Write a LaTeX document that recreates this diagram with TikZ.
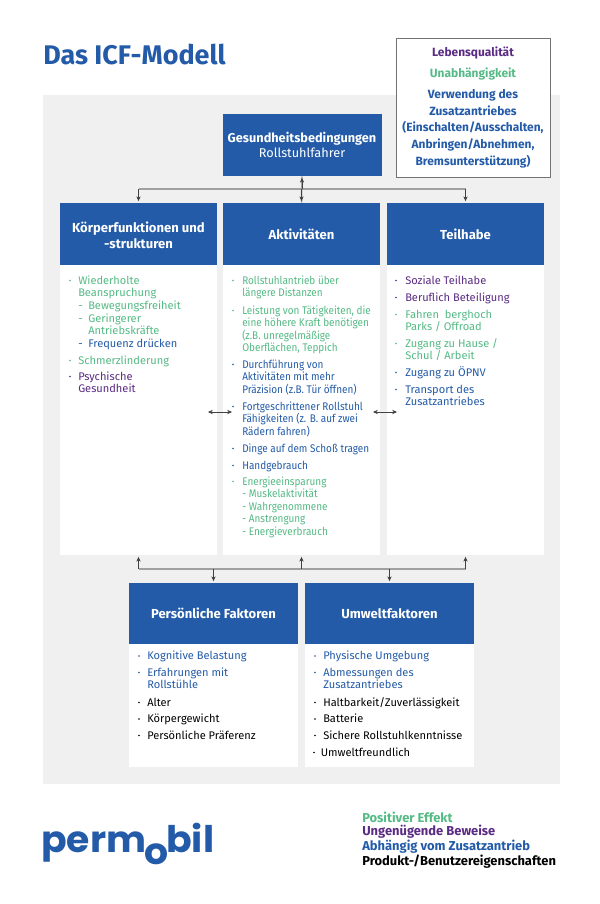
\documentclass[tikz,border=0pt]{standalone}
\usepackage{fontspec}
\setmainfont{Fira Sans}
\newfontfamily\condfont[FakeStretch=0.9]{Fira Sans}
\newfontfamily\logowide[FakeStretch=1.03]{Poppins}
\usetikzlibrary{arrows.meta}
\definecolor{pmblue}{HTML}{235BA8}
\definecolor{pmgreen}{HTML}{55BA85}
\definecolor{pmpurple}{HTML}{5A2A84}
\definecolor{pmgrey}{HTML}{F0F0F0}
\definecolor{pmline}{HTML}{A0A0A0}
\tikzset{
  head/.style={fill=pmblue,text=white,inner sep=0pt,align=center,font=\fontsize{9.8}{11.6}\selectfont\bfseries},
  cardbody/.style={fill=white,inner sep=0pt},
  itm/.style={anchor=base west,inner sep=0pt,font=\fontsize{8.3}{9.45}\selectfont},
  itmc/.style={anchor=base west,inner sep=0pt,font=\condfont\fontsize{8.3}{9.45}\selectfont},
  leg/.style={anchor=west,inner sep=0pt,font=\fontsize{9.7}{11}\selectfont\bfseries},
  logotext/.style={anchor=base west,inner sep=0pt,text=pmblue,font=\logowide\fontsize{27.5}{30}\selectfont\bfseries},
  bus/.style={draw=pmline,line width=1.1pt},
  arr/.style={draw=black!75,line width=0.5pt,-{Stealth[length=3.6pt,width=3.2pt]},shorten >=1.2pt},
  arrb/.style={draw=black!75,line width=0.5pt,{Stealth[length=3.6pt,width=3.2pt]}-{Stealth[length=3.6pt,width=3.2pt]}}
}
% name, bullet x, text x, y of first baseline, colour, lines separated by \cr
\newcommand{\liitem}[6]{%
  \fill[#5] (#2,#4-3.5) circle (0.95);
  \node[itm,text=#5] (#1) at (#3,#4) {\vtop{\halign{##\hfil\cr #6\crcr}}};
}
\newcommand{\licond}[6]{%
  \fill[#5] (#2,#4-3.5) circle (0.95);
  \node[itmc,text=#5] (#1) at (#3,#4) {\vtop{\halign{##\hfil\cr #6\crcr}}};
}
\begin{document}
\begin{tikzpicture}[x=0.75pt,y=-0.75pt]
\useasboundingbox (0,0) rectangle (600,904);
\fill[pmgrey] (43,95) rectangle (560,784);
\node[anchor=base west,inner sep=0pt,text=pmblue,font=\fontsize{20.2}{22}\selectfont\bfseries] (title) at (43,64) {Das ICF-Modell};
\node[draw=black!55,line width=0.5pt,fill=white,minimum width=115.5pt,minimum height=104pt,inner sep=0pt,align=center,font=\fontsize{8.95}{12.5}\selectfont\bfseries] (outcome) at (473,107.5) {{\color{pmpurple}Lebensqualität}\\[3.2pt]{\color{pmgreen}Unabhängigkeit}\\[3.2pt]{\color{pmblue}Verwendung des}\\{\color{pmblue}Zusatzantriebes}\\{\color{pmblue}(Einschalten/Ausschalten,}\\{\color{pmblue}Anbringen/Abnehmen,}\\{\color{pmblue}Bremsunterstützung)}};
% header boxes
\node[head,font=\fontsize{9.55}{11.6}\selectfont\bfseries,minimum width=119.25pt,minimum height=46.5pt] (gb) at (302,145) {Gesundheitsbedingungen\\{\normalfont\fontsize{9.55}{11.6}\selectfont Rollstuhlfahrer}};
\node[head,minimum width=117.75pt,minimum height=46.5pt] (kf) at (138.5,234) {\rule{0pt}{9.8pt}Körperfunktionen und\\-strukturen};
\node[head,minimum width=117.75pt,minimum height=46.5pt] (ak) at (301.5,234) {Aktivitäten};
\node[head,minimum width=117.75pt,minimum height=46.5pt] (te) at (465.5,234) {Teilhabe};
\node[cardbody,minimum width=117.75pt,minimum height=217.5pt] (kfb) at (138.5,410) {};
\node[cardbody,minimum width=117.75pt,minimum height=217.5pt] (akb) at (301.5,410) {};
\node[cardbody,minimum width=117.75pt,minimum height=217.5pt] (teb) at (465.5,410) {};
\node[head,minimum width=126.75pt,minimum height=45.75pt] (pf) at (213.5,613.5) {Persönliche Faktoren};
\node[head,minimum width=126.75pt,minimum height=45.75pt] (uf) at (389.5,613.5) {Umweltfaktoren};
\node[cardbody,minimum width=126.75pt,minimum height=92.25pt] (pfb) at (213.5,705.5) {};
\node[cardbody,minimum width=126.75pt,minimum height=92.25pt] (ufb) at (389.5,705.5) {};
% connectors, top
\coordinate (topbus) at (302,189);
\draw[bus] (topbus -| kf.north) -- (topbus -| te.north);
\draw[bus] (gb.south) -- (ak.north);
\draw[arr] (topbus -| kf.north) -- (kf.north);
\draw[arr] (topbus -| te.north) -- (te.north);
\draw[arr] (topbus -| ak.north) -- (ak.north);
\draw[arr] (topbus -| gb.south) -- (gb.south);
% connectors, bottom
\coordinate (botbus) at (302,569);
\draw[bus] (botbus -| kfb.south) -- (botbus -| teb.south);
\draw[arr] (botbus -| kfb.south) -- (kfb.south);
\draw[arr] (botbus -| akb.south) -- (akb.south);
\draw[arr] (botbus -| teb.south) -- (teb.south);
\draw[arr] (botbus -| pf.north) -- (pf.north);
\draw[arr] (botbus -| uf.north) -- (uf.north);
% side arrows
\coordinate (sa) at (208,412); \coordinate (sb) at (232,412);
\coordinate (sc) at (373,412); \coordinate (sd) at (397,412);
\draw[arrb] (sa) -- (sb);
\draw[arrb] (sc) -- (sd);
% column 1
\liitem{a1}{70}{78}{284}{pmgreen}{Wiederholte\cr Beanspruchung}
\node[itm,text=pmgreen] (a1a) at (78,309) {-};
\node[itm,text=pmgreen] (a1b) at (88,309) {Bewegungsfreiheit};
\node[itm,text=pmgreen] (a1c) at (78,322) {-};
\node[itm,text=pmgreen] (a1d) at (88,322) {\vtop{\halign{#\hfil\cr Geringerer\cr Antriebskräfte\crcr}}};
\node[itm,text=pmblue] (a1e) at (78,347) {-};
\node[itm,text=pmblue] (a1f) at (88,347) {Frequenz drücken};
\liitem{a2}{70}{78}{364}{pmgreen}{Schmerzlinderung}
\liitem{a3}{70}{78}{380}{pmpurple}{Psychische\cr Gesundheit}
% column 2
\licond{b1}{233}{242}{284}{pmgreen}{Rollstuhlantrieb über\cr längere Distanzen}
\licond{b2}{233}{242}{314}{pmgreen}{Leistung von Tätigkeiten, die\cr eine höhere Kraft benötigen\cr (z.B. unregelmäßige\cr Oberflächen, Teppich}
\licond{b3}{233}{242}{368}{pmblue}{Durchführung von\cr Aktivitäten mit mehr\cr Präzision (z.B. Tür öffnen)}
\licond{b4}{233}{242}{410}{pmblue}{Fortgeschrittener Rollstuhl\cr Fähigkeiten (z. B. auf zwei\cr Rädern fahren)}
\licond{b5}{233}{242}{452}{pmblue}{Dinge auf dem Schoß tragen}
\licond{b6}{233}{242}{469}{pmblue}{Handgebrauch}
\licond{b7}{233}{242}{485}{pmgreen}{Energieeinsparung\cr - Muskelaktivität\cr - Wahrgenommene\cr - Anstrengung\cr - Energieverbrauch}
% column 3
\liitem{c1}{396}{405}{284}{pmpurple}{Soziale Teilhabe}
\liitem{c2}{396}{405}{301}{pmpurple}{Beruflich Beteiligung}
\liitem{c3}{396}{405}{318}{pmgreen}{Fahren\ \ berghoch\cr Parks / Offroad}
\liitem{c4}{396}{405}{347}{pmgreen}{Zugang zu Hause /\cr Schul / Arbeit}
\liitem{c5}{396}{405}{376}{pmblue}{Zugang zu ÖPNV}
\liitem{c6}{396}{405}{393}{pmblue}{Transport des\cr Zusatzantriebes}
% bottom left
\liitem{d1}{139}{147}{659.5}{pmblue}{Kognitive Belastung}
\liitem{d2}{139}{147}{676}{pmblue}{Erfahrungen mit\cr Rollstühle}
\liitem{d3}{139}{147}{706}{black}{Alter}
\liitem{d4}{139}{147}{722.5}{black}{Körpergewicht}
\liitem{d5}{139}{147}{739}{black}{Persönliche Präferenz}
% bottom right
\liitem{e1}{315}{323}{659.5}{pmblue}{Physische Umgebung}
\liitem{e2}{315}{323}{676}{pmblue}{Abmessungen des\cr Zusatzantriebes}
\liitem{e3}{315}{323}{706}{black}{Haltbarkeit/Zuverlässigkeit}
\liitem{e4}{315}{323}{722.5}{black}{Batterie}
\liitem{e5}{315}{323}{739}{black}{Sichere Rollstuhlkenntnisse}
\liitem{e6}{314}{320.5}{756}{black}{Umweltfreundlich}
% legend
\node[leg,text=pmgreen] (l1) at (362,817) {Positiver Effekt};
\node[leg,text=pmpurple] (l2) at (362,832) {Ungenügende Beweise};
\node[leg,text=pmblue] (l3) at (362,847) {Abhängig vom Zusatzantrieb};
\node[leg,text=black] (l4) at (362,862) {Produkt-/Benutzereigenschaften};
% logo
\node[logotext] (logoa) at (41,852) {perm};
\node[logotext] (logob) at (144.5,864) {o};
\node[logotext] (logoc) at (166,852) {bil};
\end{tikzpicture}
\end{document}
